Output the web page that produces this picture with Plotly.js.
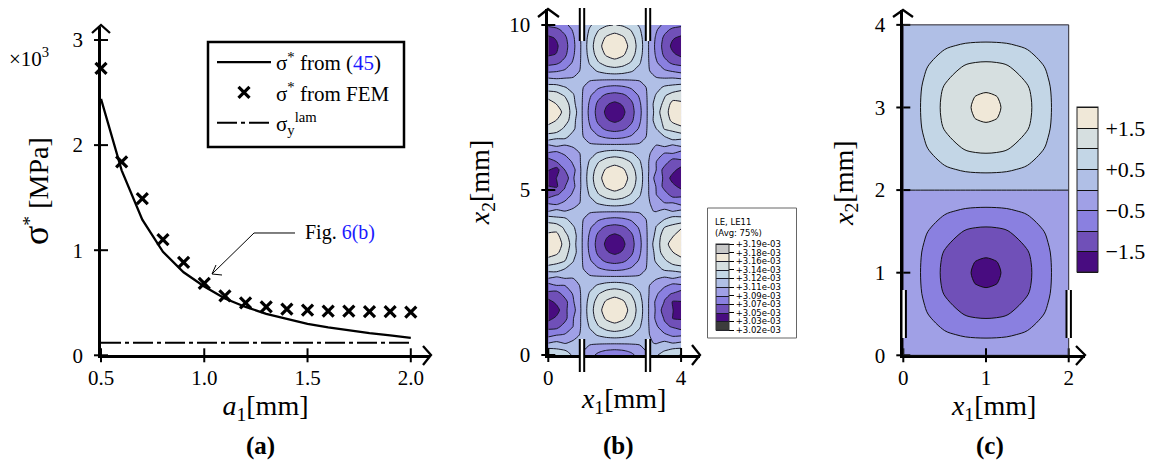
<!DOCTYPE html>
<html><head><meta charset="utf-8">
<script src="https://cdn.plot.ly/plotly-3.0.1.min.js"></script>
<style>html,body{margin:0;padding:0;background:#fff}#c{width:1151px;height:461px}</style>
</head><body><div id="c"></div>
<script>
// ---------- panel (a) ----------
const aX = [0.5,0.6,0.7,0.8,0.9,1.0,1.1,1.2,1.3,1.4,1.5,1.6,1.7,1.8,1.9,2.0];
const aTheory = [2.44,1.76,1.29,0.985,0.79,0.655,0.54,0.46,0.395,0.345,0.30,0.265,0.235,0.21,0.19,0.165];
const aFEM = [2.73,1.84,1.49,1.10,0.885,0.685,0.565,0.50,0.46,0.44,0.43,0.42,0.42,0.415,0.415,0.41];
const aLamX = [0.5,2.0];
const aLamY = [0.12,0.12];
const aXTicks = [0.5,1.0,1.5,2.0];
const aXTickText = ['0.5','1.0','1.5','2.0'];
const aYTicks = [0,1,2,3];

// ---------- panel (b) ----------
const bX = [0,0.25,0.5,0.75,1,1.25,1.5,1.75,2,2.25,2.5,2.75,3,3.25,3.5,3.75,4];
const bY = [0,0.11,0.36,0.61,0.86,1.11,1.36,1.61,1.86,2.11,2.36,2.61,2.86,3.11,3.36,3.61,3.86,4.11,4.36,4.61,4.86,5.11,5.36,5.61,5.86,6.11,6.36,6.61,6.86,7.11,7.36,7.61,7.86,8.11,8.36,8.61,8.86,9.11,9.36,9.61,9.86,10];
const bZ = [
[3.139,3.136,3.129,3.119,3.106,3.093,3.083,3.076,3.073,3.076,3.083,3.093,3.106,3.119,3.129,3.136,3.139],
[3.131,3.127,3.124,3.114,3.106,3.097,3.089,3.084,3.082,3.084,3.089,3.097,3.106,3.116,3.122,3.129,3.130],
[3.104,3.108,3.103,3.107,3.106,3.106,3.106,3.106,3.106,3.106,3.106,3.106,3.106,3.103,3.108,3.104,3.107],
[3.081,3.086,3.088,3.098,3.106,3.115,3.123,3.128,3.130,3.128,3.123,3.115,3.106,3.096,3.090,3.083,3.084],
[3.064,3.064,3.077,3.087,3.106,3.123,3.137,3.146,3.150,3.146,3.137,3.123,3.106,3.090,3.073,3.068,3.061],
[3.047,3.056,3.064,3.086,3.106,3.128,3.146,3.158,3.163,3.158,3.146,3.128,3.106,3.083,3.068,3.052,3.051],
[3.049,3.045,3.066,3.080,3.106,3.130,3.150,3.163,3.168,3.163,3.150,3.130,3.106,3.084,3.060,3.053,3.042],
[3.046,3.057,3.063,3.085,3.106,3.128,3.146,3.158,3.163,3.158,3.146,3.128,3.106,3.083,3.069,3.051,3.052],
[3.066,3.062,3.077,3.088,3.106,3.123,3.137,3.146,3.150,3.146,3.137,3.123,3.106,3.091,3.072,3.069,3.060],
[3.080,3.087,3.087,3.098,3.106,3.115,3.123,3.128,3.130,3.128,3.123,3.115,3.106,3.096,3.091,3.082,3.085],
[3.108,3.103,3.107,3.105,3.106,3.106,3.106,3.106,3.106,3.106,3.106,3.106,3.106,3.107,3.104,3.108,3.103],
[3.128,3.131,3.121,3.116,3.106,3.097,3.089,3.084,3.082,3.084,3.089,3.097,3.106,3.114,3.125,3.126,3.133],
[3.152,3.143,3.139,3.122,3.106,3.089,3.075,3.066,3.063,3.066,3.075,3.089,3.106,3.124,3.135,3.149,3.148],
[3.161,3.160,3.144,3.130,3.106,3.084,3.066,3.054,3.049,3.054,3.066,3.084,3.106,3.127,3.148,3.155,3.166],
[3.171,3.160,3.153,3.128,3.106,3.082,3.063,3.049,3.045,3.049,3.063,3.082,3.106,3.132,3.147,3.166,3.164],
[3.160,3.161,3.143,3.130,3.106,3.084,3.066,3.054,3.049,3.054,3.066,3.084,3.106,3.126,3.149,3.154,3.170],
[3.148,3.149,3.135,3.124,3.106,3.089,3.075,3.066,3.063,3.066,3.075,3.089,3.106,3.122,3.139,3.143,3.153],
[3.132,3.126,3.125,3.113,3.106,3.097,3.089,3.084,3.082,3.084,3.089,3.097,3.106,3.117,3.121,3.130,3.127],
[3.103,3.109,3.104,3.108,3.106,3.106,3.106,3.106,3.106,3.106,3.106,3.106,3.106,3.103,3.109,3.103,3.108],
[3.085,3.081,3.091,3.096,3.106,3.115,3.123,3.128,3.130,3.128,3.123,3.115,3.106,3.098,3.087,3.087,3.079],
[3.060,3.069,3.072,3.091,3.106,3.123,3.137,3.146,3.150,3.146,3.137,3.123,3.106,3.087,3.078,3.062,3.066],
[3.053,3.050,3.069,3.082,3.106,3.128,3.146,3.158,3.163,3.158,3.146,3.128,3.106,3.086,3.063,3.058,3.046],
[3.040,3.053,3.058,3.085,3.106,3.130,3.150,3.163,3.168,3.163,3.150,3.130,3.106,3.079,3.067,3.044,3.050],
[3.054,3.045,3.070,3.081,3.106,3.128,3.146,3.158,3.163,3.158,3.146,3.128,3.106,3.087,3.062,3.059,3.044],
[3.059,3.070,3.071,3.091,3.106,3.123,3.137,3.146,3.150,3.146,3.137,3.123,3.106,3.087,3.079,3.061,3.067],
[3.085,3.081,3.091,3.096,3.106,3.115,3.123,3.128,3.130,3.128,3.123,3.115,3.106,3.099,3.086,3.087,3.078],
[3.103,3.108,3.104,3.107,3.106,3.106,3.106,3.106,3.106,3.106,3.106,3.106,3.106,3.104,3.108,3.103,3.109],
[3.133,3.125,3.126,3.113,3.106,3.097,3.089,3.084,3.082,3.084,3.089,3.097,3.106,3.117,3.120,3.131,3.126],
[3.147,3.150,3.134,3.125,3.106,3.089,3.075,3.066,3.063,3.066,3.075,3.089,3.106,3.121,3.140,3.142,3.154],
[3.165,3.155,3.148,3.127,3.106,3.084,3.066,3.054,3.049,3.054,3.066,3.084,3.106,3.130,3.143,3.161,3.159],
[3.166,3.167,3.148,3.132,3.106,3.082,3.063,3.049,3.045,3.049,3.063,3.082,3.106,3.128,3.152,3.160,3.172],
[3.163,3.155,3.149,3.126,3.106,3.084,3.066,3.054,3.049,3.054,3.066,3.084,3.106,3.130,3.142,3.162,3.158],
[3.150,3.146,3.137,3.123,3.106,3.089,3.075,3.066,3.063,3.066,3.075,3.089,3.106,3.123,3.137,3.146,3.150],
[3.129,3.129,3.122,3.116,3.106,3.097,3.089,3.084,3.082,3.084,3.089,3.097,3.106,3.115,3.124,3.127,3.131],
[3.107,3.105,3.106,3.106,3.106,3.106,3.106,3.106,3.106,3.106,3.106,3.106,3.106,3.106,3.106,3.107,3.105],
[3.083,3.085,3.089,3.097,3.106,3.115,3.123,3.128,3.130,3.128,3.123,3.115,3.106,3.097,3.089,3.085,3.081],
[3.063,3.066,3.075,3.089,3.106,3.123,3.137,3.146,3.150,3.146,3.137,3.123,3.106,3.089,3.075,3.066,3.063],
[3.050,3.053,3.066,3.084,3.106,3.128,3.146,3.158,3.163,3.158,3.146,3.128,3.106,3.084,3.066,3.055,3.048],
[3.044,3.050,3.063,3.082,3.106,3.130,3.150,3.163,3.168,3.163,3.150,3.130,3.106,3.082,3.063,3.048,3.046],
[3.049,3.054,3.066,3.084,3.106,3.128,3.146,3.158,3.163,3.158,3.146,3.128,3.106,3.084,3.066,3.054,3.049],
[3.063,3.066,3.075,3.089,3.106,3.123,3.137,3.146,3.150,3.146,3.137,3.123,3.106,3.089,3.075,3.066,3.063],
[3.073,3.076,3.083,3.093,3.106,3.119,3.129,3.136,3.139,3.136,3.129,3.119,3.106,3.093,3.083,3.076,3.073]
];
const bLevelStart = 3.018, bLevelEnd = 3.19, bLevelSize = 0.0172;
const bColors = ['#3c3c3c','#480c80','#7050b8','#8a80e0','#a0a0e6','#b0bfe6','#c3d6e6','#d6dfe0','#f0e8d8','#c8c8c8'];
const bBarVals = [3.018,3.0352,3.0524,3.0696,3.0868,3.104,3.1212,3.1384,3.1556,3.1728,3.19];
const bBarText = ['+3.02e-03','+3.03e-03','+3.05e-03','+3.07e-03','+3.09e-03','+3.11e-03','+3.12e-03','+3.14e-03','+3.16e-03','+3.18e-03','+3.19e-03'];
const bXTicks = [0,4];
const bYTicks = [0,5,10];

// ---------- panel (c) ----------
const cX = [0,0.25,0.5,0.75,0.875,1,1.125,1.25,1.5,1.75,2];
const cY = [0,0.25,0.5,0.75,0.875,1,1.125,1.25,1.5,1.75,1.999,2,2.25,2.5,2.75,2.875,3,3.125,3.25,3.5,3.75,4];
const cZ = [
[-0.001,-0.001,-0.001,-0.001,-0.001,-0.001,-0.001,-0.001,-0.001,-0.001,-0.001],
[-0.001,-0.23,-0.43,-0.56,-0.59,-0.60,-0.59,-0.56,-0.43,-0.23,-0.001],
[-0.001,-0.43,-0.79,-1.03,-1.09,-1.11,-1.09,-1.03,-0.79,-0.43,-0.001],
[-0.001,-0.56,-1.03,-1.34,-1.42,-1.45,-1.42,-1.34,-1.03,-0.56,-0.001],
[-0.001,-0.59,-1.09,-1.42,-1.51,-1.54,-1.51,-1.42,-1.09,-0.59,-0.001],
[-0.001,-0.60,-1.11,-1.45,-1.54,-1.57,-1.54,-1.45,-1.11,-0.60,-0.001],
[-0.001,-0.59,-1.09,-1.42,-1.51,-1.54,-1.51,-1.42,-1.09,-0.59,-0.001],
[-0.001,-0.56,-1.03,-1.34,-1.42,-1.45,-1.42,-1.34,-1.03,-0.56,-0.001],
[-0.001,-0.43,-0.79,-1.03,-1.09,-1.11,-1.09,-1.03,-0.79,-0.43,-0.001],
[-0.001,-0.23,-0.43,-0.56,-0.59,-0.60,-0.59,-0.56,-0.43,-0.23,-0.001],
[-0.001,-0.001,-0.001,-0.001,-0.001,-0.001,-0.001,-0.001,-0.001,-0.001,-0.001],
[0.001,0.001,0.001,0.001,0.001,0.001,0.001,0.001,0.001,0.001,0.001],
[0.001,0.23,0.43,0.56,0.59,0.60,0.59,0.56,0.43,0.23,0.001],
[0.001,0.43,0.79,1.03,1.09,1.11,1.09,1.03,0.79,0.43,0.001],
[0.001,0.56,1.03,1.34,1.42,1.45,1.42,1.34,1.03,0.56,0.001],
[0.001,0.59,1.09,1.42,1.51,1.54,1.51,1.42,1.09,0.59,0.001],
[0.001,0.60,1.11,1.45,1.54,1.57,1.54,1.45,1.11,0.60,0.001],
[0.001,0.59,1.09,1.42,1.51,1.54,1.51,1.42,1.09,0.59,0.001],
[0.001,0.56,1.03,1.34,1.42,1.45,1.42,1.34,1.03,0.56,0.001],
[0.001,0.43,0.79,1.03,1.09,1.11,1.09,1.03,0.79,0.43,0.001],
[0.001,0.23,0.43,0.56,0.59,0.60,0.59,0.56,0.43,0.23,0.001],
[0.001,0.001,0.001,0.001,0.001,0.001,0.001,0.001,0.001,0.001,0.001]
];
const cColors = ['#480c80','#7050b8','#8a80e0','#a0a0e6','#b0bfe6','#c3d6e6','#d6dfe0','#f0e8d8'];
const cBarVals = [-1.5,-0.5,0.5,1.5];
const cBarText = ['\u22121.5','\u22120.5','+0.5','+1.5'];
const cXTicks = [0,1,2];
const cYTicks = [0,1,2,3,4];

// ---------- helpers ----------
const W = 1151, H = 461;
const SERIF = '"Liberation Serif", serif';
const px = x => x / W;
const py = y => 1 - y / H;
function steps(cols){
  const out = [], n = cols.length;
  cols.forEach((c,i)=>{ out.push([i/n,c]); out.push([(i+1)/n,c]); });
  return out;
}
function line(x0,y0,x1,y1,w,color){
  return {type:'line',xref:'paper',yref:'paper',x0:px(x0),y0:py(y0),x1:px(x1),y1:py(y1),
          line:{color:color||'#000',width:w},layer:'above'};
}
function poly(points,w){
  const d = points.map((p,i)=>(i?'L':'M')+px(p[0]).toFixed(5)+','+py(p[1]).toFixed(5)).join(' ');
  return {type:'path',xref:'paper',yref:'paper',path:d,line:{color:'#000',width:w},layer:'above'};
}
function vBreak(xc,y0,y1){
  return [
    {type:'rect',xref:'paper',yref:'paper',x0:px(xc-2),x1:px(xc+2),y0:py(y1),y1:py(y0),fillcolor:'#fff',line:{width:0},layer:'above'},
    line(xc-2.2,y0,xc-2.2,y1,2), line(xc+2.2,y0,xc+2.2,y1,2)
  ];
}
function axis(dom,range,vals,text,title,standoff,anchor,len){
  return {domain:dom,range:range,anchor:anchor,showgrid:false,zeroline:false,showline:true,linecolor:'#000',linewidth:2.5,
    tickmode:'array',tickvals:vals,ticktext:text||vals.map(String),ticks:'outside',tickcolor:'rgba(0,0,0,0)',ticklen:len,tickwidth:1,
    tickfont:{family:SERIF,size:21,color:'#000'},
    title:{text:title,font:{family:SERIF,size:28,color:'#000'},standoff:standoff},automargin:false,fixedrange:true};
}
function tickMarks(xs,ys,xa,ya,sym){
  return {x:xs,y:ys,xaxis:xa,yaxis:ya,mode:'markers',showlegend:false,hoverinfo:'skip',cliponaxis:false,
    marker:{symbol:sym,size:10,color:'#000',line:{color:'#000',width:2}}};
}
const labelX = '<i>x</i><sub>1</sub>[mm]', labelY = '<i>x</i><sub>2</sub>[mm]';

// ---------- traces ----------
const traces = [
  {x:aX,y:aTheory,xaxis:'x',yaxis:'y',mode:'lines',name:'σ<sup>*</sup> from (<span style="color:#1a1aff">45</span>)',
   line:{color:'#000',width:2.3},cliponaxis:false},
  {x:aX,y:aFEM,xaxis:'x',yaxis:'y',mode:'markers',name:'σ<sup>*</sup> from FEM',cliponaxis:false,
   marker:{symbol:'x-thin',size:11,color:'#000',line:{color:'#000',width:3.2}}},
  {x:aLamX,y:aLamY,xaxis:'x',yaxis:'y',mode:'lines',name:'σ<sub>y</sub><sup>lam</sup>',
   line:{color:'#000',width:2,dash:'20px,4px,4px,4px'}},
  tickMarks(aXTicks,aXTicks.map(()=>0),'x','y','line-ns'),
  tickMarks(aYTicks.map(()=>0.5),aYTicks,'x','y','line-ew'),
  {type:'contour',x:bX,y:bY,z:bZ,xaxis:'x2',yaxis:'y2',zmin:bLevelStart,zmax:bLevelEnd,autocontour:false,
   contours:{start:bLevelStart,end:bLevelEnd,size:bLevelSize,coloring:'fill',showlines:true},
   colorscale:steps(bColors),line:{color:'#1a1a2a',width:1,smoothing:0.6},showlegend:false,hoverinfo:'skip',
   colorbar:{x:px(716),xanchor:'left',xpad:0,y:py(244),yanchor:'top',ypad:0,lenmode:'pixels',len:86,thickness:13,
     tickmode:'array',tickvals:bBarVals,ticktext:bBarText,ticks:'outside',ticklen:5,tickwidth:1,tickcolor:'#000',
     tickfont:{family:'"DejaVu Sans"',size:8.5,color:'#000'},outlinecolor:'#333',outlinewidth:1,borderwidth:0}},
  tickMarks(bXTicks,bXTicks.map(()=>0),'x2','y2','line-ns'),
  tickMarks(bYTicks.map(()=>0),bYTicks,'x2','y2','line-ew'),
  {type:'contour',x:cX,y:cY,z:cZ,xaxis:'x3',yaxis:'y3',zmin:-2,zmax:2,autocontour:false,
   contours:{start:-2,end:2,size:0.5,coloring:'fill',showlines:true},
   colorscale:steps(cColors),line:{color:'#111',width:1,smoothing:0.9},showlegend:false,hoverinfo:'skip',
   colorbar:{x:px(1077),xanchor:'left',xpad:0,y:py(107.3),yanchor:'top',ypad:0,lenmode:'pixels',len:165.4,thickness:20.7,
     tickmode:'array',tickvals:cBarVals,ticktext:cBarText,ticks:'outside',ticklen:3,tickwidth:1,tickcolor:'rgba(0,0,0,0)',
     tickfont:{family:SERIF,size:22,color:'#000'},outlinecolor:'#222',outlinewidth:1,borderwidth:0}},
  tickMarks(cXTicks,cXTicks.map(()=>0),'x3','y3','line-ns'),
  tickMarks(cYTicks.map(()=>0),cYTicks,'x3','y3','line-ew')
];

// ---------- layout ----------
const shapes = [
  // Abaqus legend box
  {type:'rect',xref:'paper',yref:'paper',x0:px(707.5),x1:px(796.5),y0:py(338),y1:py(208),line:{color:'#666',width:1},fillcolor:'#fff',layer:'below'},
  // frame of the legend in (a)
  {type:'rect',xref:'paper',yref:'paper',x0:px(208),x1:px(404),y0:py(147),y1:py(42),line:{color:'#000',width:2.5},layer:'above'},
  // frame of the plate in (c)
  {type:'rect',xref:'x3',yref:'y3',x0:0,x1:2,y0:0,y1:4,line:{color:'#333',width:1},layer:'above'},
  // axis arrow heads
  poly([[92,33],[101,25],[110,33]],2.3), poly([[423,346],[431,355],[423,365]],2.3),
  poly([[538,17],[548,9],[559,17]],2.3), poly([[692,345],[700,355],[692,365]],2.3),
  poly([[893,17],[903,10],[913,17]],2.3), poly([[1076,346],[1085,355],[1076,365]],2.3),
  // leader of the Fig. 6(b) note
  poly([[295,233],[254,233],[212,274]],1), poly([[222,275],[212,274],[216,265]],1),
  ...vBreak(582,8,41), ...vBreak(648,8,41), ...vBreak(582,339,372), ...vBreak(648,339,372),
  ...vBreak(903.7,290,338), ...vBreak(1068.7,290,338)
];
const note = (x,y,text,size,extra)=>Object.assign({xref:'paper',yref:'paper',x:px(x),y:py(y),text:text,showarrow:false,
   xanchor:'left',yanchor:'middle',font:{family:SERIF,size:size,color:'#000'}},extra||{});
const annotations = [
  note(7,58,'×10<sup>3</sup>',21),
  note(303,232,'Fig. <span style="color:#1a1aff">6(b)</span>',20),
  note(260,446,'<b>(a)</b>',25,{xanchor:'center'}),
  note(618,446,'<b>(b)</b>',25,{xanchor:'center'}),
  note(990,446,'<b>(c)</b>',25,{xanchor:'center'}),
  note(713,227,'LE, LE11<br>(Avg: 75%)',8.5,{font:{family:'"DejaVu Sans"',size:8.5,color:'#000'},align:'left'})
];
const layout = {
  width:W,height:H,margin:{l:0,r:0,t:0,b:0},paper_bgcolor:'#fff',plot_bgcolor:'rgba(0,0,0,0)',
  showlegend:true,
  legend:{x:px(212),y:py(42),xanchor:'left',yanchor:'top',borderwidth:0,bgcolor:'rgba(255,255,255,0)',
    font:{family:SERIF,size:21,color:'#000'},itemwidth:54,traceorder:'normal',tracegroupgap:0,entrywidth:125,entrywidthmode:'pixels'},
  xaxis: axis([px(101),px(430)],[0.5,2.093],aXTicks,aXTickText,'<i>a</i><sub>1</sub>[mm]',0,'y',2),
  yaxis: axis([py(355.3),py(27)],[0,3.124],aYTicks,null,'<span style="font-size:36px">σ</span><sup>*</sup> [MPa]',16,'x',11),
  xaxis2:axis([px(548.3),px(700)],[0,4.57],bXTicks,null,labelX,0,'y2',2),
  yaxis2:axis([py(355),py(9)],[0,10.485],bYTicks,null,labelY,12,'x2',11),
  xaxis3:axis([px(903.3),px(1085)],[0,2.197],cXTicks,null,labelX,0,'y3',2),
  yaxis3:axis([py(355.3),py(10)],[0,4.18],cYTicks,null,labelY,14,'x3',11),
  shapes:shapes,annotations:annotations
};
Plotly.newPlot('c',traces,layout,{displayModeBar:false,responsive:false});
</script></body></html>
